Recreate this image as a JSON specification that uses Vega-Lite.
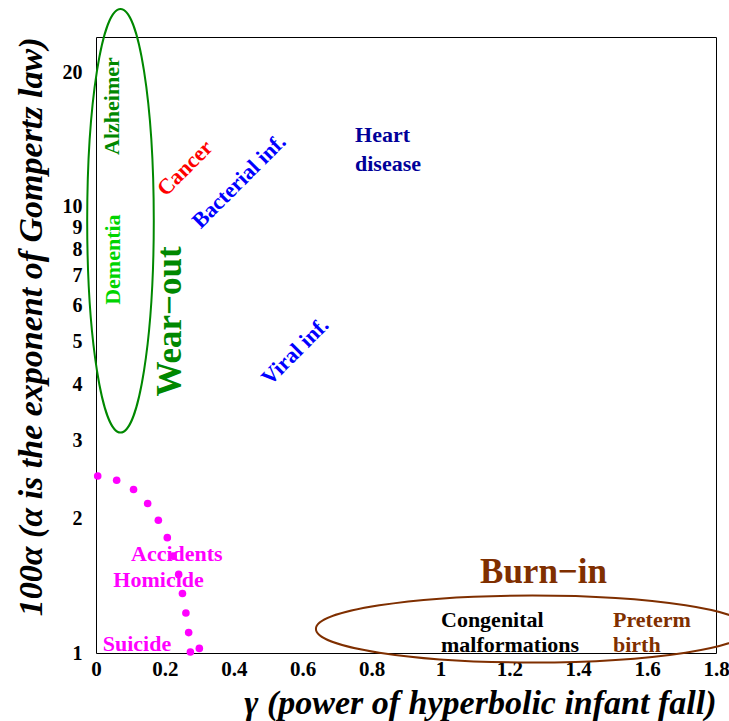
{
  "$schema": "https://vega.github.io/schema/vega-lite/v6.json",
  "width": 620,
  "height": 616,
  "autosize": {"type": "none"},
  "padding": {"left": 96, "top": 37, "right": 13, "bottom": 68},
  "background": "white",
  "config": {"view": {"stroke": "black", "strokeWidth": 1}, "font": "Liberation Serif"},
  "datasets": {
    "points": [
      {"gamma": 0.005, "alpha100": 2.493},
      {"gamma": 0.060, "alpha100": 2.438},
      {"gamma": 0.109, "alpha100": 2.324},
      {"gamma": 0.150, "alpha100": 2.162},
      {"gamma": 0.181, "alpha100": 1.984},
      {"gamma": 0.207, "alpha100": 1.813},
      {"gamma": 0.224, "alpha100": 1.648},
      {"gamma": 0.240, "alpha100": 1.500},
      {"gamma": 0.251, "alpha100": 1.359},
      {"gamma": 0.261, "alpha100": 1.229},
      {"gamma": 0.269, "alpha100": 1.111},
      {"gamma": 0.274, "alpha100": 1.005},
      {"gamma": 0.300, "alpha100": 1.024}
    ],
    "labels": [
      {"text": "Alzheimer", "gamma": 0.0465, "alpha100": 16.8, "kind": "vertical"},
      {"text": "Dementia", "gamma": 0.049, "alpha100": 7.61, "kind": "vertical"},
      {"text": "Wear−out", "gamma": 0.2148, "alpha100": 5.53, "kind": "bigVertical"},
      {"text": "Cancer", "gamma": 0.258, "alpha100": 12.2, "kind": "diagonal"},
      {"text": "Bacterial inf.", "gamma": 0.415, "alpha100": 11.4, "kind": "diagonal"},
      {"text": "Viral inf.", "gamma": 0.578, "alpha100": 4.74, "kind": "diagonal"},
      {"text": "Heart\ndisease", "gamma": 0.752, "alpha100": 13.98, "kind": "heart"},
      {"text": "Accidents", "gamma": 0.1016, "alpha100": 1.606, "kind": "horizontal"},
      {"text": "Homicide", "gamma": 0.0503, "alpha100": 1.407, "kind": "horizontal"},
      {"text": "Suicide", "gamma": 0.0195, "alpha100": 1.012, "kind": "horizontal"},
      {"text": "Congenital\nmalformations", "gamma": 1.0016, "alpha100": 1.143, "kind": "horizontal"},
      {"text": "Preterm\nbirth", "gamma": 1.501, "alpha100": 1.143, "kind": "horizontal"},
      {"text": "Burn−in", "gamma": 1.115, "alpha100": 1.434, "kind": "big"}
    ],
    "regions": [
      {"region": "Wear-out", "gamma": 0.0711, "alpha100": 9.3},
      {"region": "Burn-in", "gamma": 1.267, "alpha100": 1.132}
    ]
  },
  "encoding": {
    "x": {
      "field": "gamma", "type": "quantitative",
      "scale": {"domain": [0, 1.8], "nice": false, "zero": false},
      "axis": {
        "values": [0, 0.2, 0.4, 0.6, 0.8, 1, 1.2, 1.4, 1.6, 1.8],
        "format": "~g", "ticks": false, "grid": false, "domain": false,
        "labelFont": "Liberation Serif", "labelFontWeight": "bold", "labelFontSize": 21,
        "labelColor": "black", "labelPadding": 5, "labelFlush": false, "labelOverlap": false,
        "title": "γ (power of hyperbolic infant fall)",
        "titleFont": "Liberation Serif", "titleFontStyle": "italic", "titleFontWeight": "bold",
        "titleFontSize": 34, "titleColor": "black", "titleAnchor": "end", "titlePadding": 7
      }
    },
    "y": {
      "field": "alpha100", "type": "quantitative",
      "scale": {"type": "log", "domain": [1, 24], "nice": false},
      "axis": {
        "values": [1, 2, 3, 4, 5, 6, 7, 8, 9, 10, 20],
        "format": "d", "ticks": false, "grid": false, "domain": false,
        "labelFont": "Liberation Serif", "labelFontWeight": "bold", "labelFontSize": 20,
        "labelColor": "black", "labelPadding": 14, "labelFlush": false, "labelOverlap": false,
        "title": "100α (α is the exponent of Gompertz law)",
        "titleFont": "Liberation Serif", "titleFontStyle": "italic", "titleFontWeight": "bold",
        "titleFontSize": 34, "titleColor": "black", "titleAnchor": "end", "titlePadding": 14
      }
    }
  },
  "layer": [
    {
      "data": {"name": "regions"},
      "transform": [{"filter": "datum.region === 'Wear-out'"}],
      "mark": {
        "type": "point", "filled": false, "clip": false, "opacity": 1,
        "shape": "M0,-1A0.1572,1,0,1,1,0,1A0.1572,1,0,1,1,0,-1Z",
        "size": 179437, "stroke": "#008800", "strokeWidth": 2
      }
    },
    {
      "data": {"name": "regions"},
      "transform": [{"filter": "datum.region === 'Burn-in'"}],
      "mark": {
        "type": "point", "filled": false, "clip": false, "opacity": 1,
        "shape": "M-1,0A1,0.1547,0,1,1,1,0A1,0.1547,0,1,1,-1,0Z",
        "size": 187489, "stroke": "#7f2f00", "strokeWidth": 2
      }
    },
    {
      "data": {"name": "points"},
      "mark": {"type": "circle", "color": "#ff00ff", "size": 58, "opacity": 1}
    },
    {
      "data": {"name": "labels"},
      "transform": [{"filter": "datum.kind === 'vertical'"}],
      "mark": {"type": "text", "angle": 270, "fontSize": 22, "fontWeight": "bold", "font": "Liberation Serif", "align": "center", "baseline": "middle"},
      "encoding": {
        "text": {"field": "text"},
        "color": {"field": "text", "type": "nominal", "legend": null,
          "scale": {"domain": ["Alzheimer", "Dementia", "Wear−out", "Cancer", "Bacterial inf.", "Viral inf.", "Heart\ndisease", "Accidents", "Homicide", "Suicide", "Congenital\nmalformations", "Preterm\nbirth", "Burn−in"],
            "range": ["#008800", "#00d400", "#008800", "#ff0000", "#0000ff", "#0000ff", "#000099", "#ff00ff", "#ff00ff", "#ff00ff", "#000000", "#7f2f00", "#7f2f00"]}}
      }
    },
    {
      "data": {"name": "labels"},
      "transform": [{"filter": "datum.kind === 'bigVertical'"}],
      "mark": {"type": "text", "angle": 270, "fontSize": 35, "fontWeight": "bold", "font": "Liberation Serif", "align": "center", "baseline": "middle"},
      "encoding": {
        "text": {"field": "text"},
        "color": {"field": "text", "type": "nominal", "legend": null}
      }
    },
    {
      "data": {"name": "labels"},
      "transform": [{"filter": "datum.kind === 'diagonal'"}],
      "mark": {"type": "text", "angle": 315, "fontSize": 22, "fontWeight": "bold", "font": "Liberation Serif", "align": "center", "baseline": "middle"},
      "encoding": {
        "text": {"field": "text"},
        "color": {"field": "text", "type": "nominal", "legend": null}
      }
    },
    {
      "data": {"name": "labels"},
      "transform": [{"filter": "datum.kind === 'heart'"}],
      "mark": {"type": "text", "fontSize": 22, "fontWeight": "bold", "font": "Liberation Serif", "align": "left", "baseline": "alphabetic", "lineBreak": "\n", "lineHeight": 29},
      "encoding": {
        "text": {"field": "text"},
        "color": {"field": "text", "type": "nominal", "legend": null}
      }
    },
    {
      "data": {"name": "labels"},
      "transform": [{"filter": "datum.kind === 'horizontal'"}],
      "mark": {"type": "text", "fontSize": 22, "fontWeight": "bold", "font": "Liberation Serif", "align": "left", "baseline": "alphabetic", "lineBreak": "\n", "lineHeight": 25},
      "encoding": {
        "text": {"field": "text"},
        "color": {"field": "text", "type": "nominal", "legend": null}
      }
    },
    {
      "data": {"name": "labels"},
      "transform": [{"filter": "datum.kind === 'big'"}],
      "mark": {"type": "text", "fontSize": 35, "fontWeight": "bold", "font": "Liberation Serif", "align": "left", "baseline": "alphabetic"},
      "encoding": {
        "text": {"field": "text"},
        "color": {"field": "text", "type": "nominal", "legend": null}
      }
    }
  ]
}
